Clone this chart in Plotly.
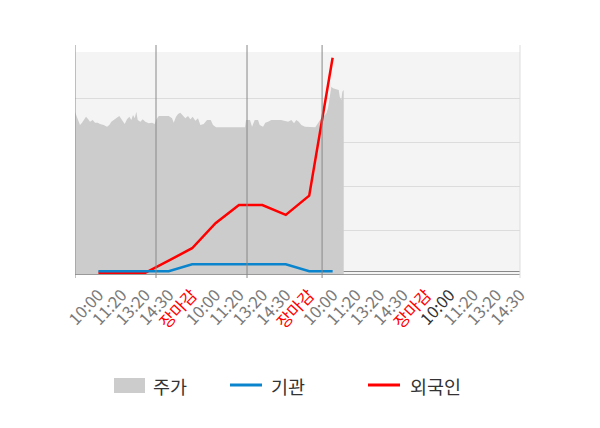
import plotly.graph_objects as go

# ---- data ----
x_labels = ["10:00", "11:20", "13:20", "14:30", "장마감",
            "10:00", "11:20", "13:20", "14:30", "장마감",
            "10:00", "11:20", "13:20", "14:30", "장마감",
            "10:00", "11:20", "13:20", "14:30"]

# intraday price (x in slot units, y in won)
price_x = [-1.0, -0.914, -0.841, -0.786, -0.700, -0.615, -0.529, -0.444, -0.359, -0.243,
           -0.145, -0.030, 0.068, 0.226, 0.367, 0.465, 0.551, 0.653, 0.794, 0.892,
           1.008, 1.123, 1.221, 1.319, 1.405, 1.477, 1.550, 1.618, 1.678, 1.789,
           1.892, 2.003, 2.148, 2.289, 2.404, 2.459, 2.575, 2.788, 3.002, 3.143,
           3.215, 3.313, 3.399, 3.497, 3.600, 3.711, 3.826, 3.924, 4.026, 4.138,
           4.253, 4.351, 4.496, 4.637, 4.795, 4.893, 5.021, 6.260, 6.302, 6.473,
           6.559, 6.674, 6.815, 6.887, 7.028, 7.126, 7.242, 7.383, 7.797, 8.096,
           8.237, 8.352, 8.450, 8.553, 8.664, 8.822, 9.261, 9.377, 9.462, 9.518,
           9.590, 9.731, 9.804, 9.876, 9.944, 10.017, 10.158, 10.261, 10.303, 10.371,
           10.414, 10.474]
price_y = [3690, 3554, 3440, 3394, 3447, 3508, 3583, 3531, 3469, 3508,
           3447, 3447, 3417, 3394, 3355, 3394, 3469, 3508, 3554, 3599,
           3508, 3417, 3524, 3583, 3508, 3622, 3547, 3697, 3508, 3469,
           3524, 3469, 3433, 3447, 3417, 3508, 3599, 3599, 3599, 3547,
           3447, 3583, 3645, 3674, 3599, 3547, 3599, 3524, 3583, 3492,
           3547, 3394, 3417, 3508, 3508, 3394, 3342, 3342, 3508, 3508,
           3355, 3508, 3508, 3394, 3355, 3447, 3469, 3508, 3508, 3469,
           3508, 3433, 3508, 3469, 3394, 3355, 3342, 3433, 3508, 3554,
           3570, 3661, 3781, 4078, 4267, 4230, 4207, 4192, 4039, 3964,
           4153, 4192]

# investor flows at time slots 0..10
flow_slots = [0, 1, 2, 3, 4, 5, 6, 7, 8, 9, 10]
foreign = [-700, -700, -700, 5000, 10800, 22500, 31000, 31000, 26400, 35400, 100000]
institution = [0, 0, 0, 0, 3300, 3300, 3300, 3300, 3300, 0, 0]

# day separators (slot units)
day_breaks = [-1.0, 2.459, 6.345, 9.55]

# ---- figure ----
OFF = 8  # page body margin
W, H = 600, 428
L, R, T, B = 75 - OFF, W - 520 + OFF, 52 - OFF, H - 274 + OFF
PW, PH = W - L - R, H - T - B


def px(p):
    return (p - OFF - L) / PW


def py(p):
    return (H - B - (p - OFF)) / PH


fig = go.Figure()
fig.add_trace(go.Scatter(x=price_x, y=price_y, name="주가", mode="lines",
                         fill="tozeroy", fillcolor="#cccccc",
                         line=dict(width=0, color="#cccccc"), yaxis="y"))
fig.add_trace(go.Scatter(x=flow_slots, y=foreign, name="외국인", mode="lines",
                         line=dict(color="#ff0000", width=2.5), yaxis="y2"))
fig.add_trace(go.Scatter(x=flow_slots, y=institution, name="기관", mode="lines",
                         line=dict(color="#0a84cc", width=2.5), yaxis="y2"))

ticktext = []
for i, lab in enumerate(x_labels):
    if lab == "장마감":
        ticktext.append('<span style="color:#ff0000">%s</span>' % lab)
    elif i == 15:
        ticktext.append('<span style="color:#333333">%s</span>' % lab)
    else:
        ticktext.append(lab)

shapes = []
for xb in day_breaks:
    shapes.append(dict(type="line", xref="x", yref="paper", x0=xb, x1=xb,
                       y0=py(278), y1=py(45), line=dict(color="#888888", width=1),
                       layer="above"))
shapes.append(dict(type="line", xref="paper", yref="paper", x0=1, x1=1,
                   y0=py(278), y1=py(45), line=dict(color="#dddddd", width=1),
                   layer="above"))

# manual legend
shapes.append(dict(type="rect", xref="paper", yref="paper", x0=px(114), x1=px(145),
                   y0=py(393), y1=py(378), fillcolor="#cccccc", line=dict(width=0)))
shapes.append(dict(type="line", xref="paper", yref="paper", x0=px(230), x1=px(262),
                   y0=py(385), y1=py(385), line=dict(color="#0a84cc", width=3)))
shapes.append(dict(type="line", xref="paper", yref="paper", x0=px(368), x1=px(400),
                   y0=py(385), y1=py(385), line=dict(color="#ff0000", width=3)))
annotations = []
for txt, xpos in [("주가", 151), ("기관", 269), ("외국인", 408)]:
    annotations.append(dict(text=txt, xref="paper", yref="paper", x=px(xpos), y=py(385.5),
                            xanchor="left", yanchor="middle", showarrow=False,
                            font=dict(size=18.5, color="#333333")))

fig.update_layout(
    width=W, height=H,
    margin=dict(l=L, r=R, t=T, b=B),
    plot_bgcolor="#f4f4f4", paper_bgcolor="white",
    showlegend=False,
    font=dict(family="Noto Sans CJK KR"),
    xaxis=dict(range=[-1, 18], tickvals=list(range(len(x_labels))), ticktext=ticktext,
               tickangle=-47, showgrid=False, zeroline=False, showline=True,
               linecolor="#999999", linewidth=1, ticks="", ticklabelstandoff=4,
               tickfont=dict(size=16.5, color="#7a7a7a")),
    yaxis=dict(range=[0, 5057], tickvals=[1000, 2000, 3000, 4000], showticklabels=False,
               gridcolor="#dcdcdc", gridwidth=1, zeroline=False, showline=False),
    yaxis2=dict(range=[-1264, 102670], overlaying="y", showgrid=False, showticklabels=False,
                zeroline=True, zerolinecolor="#888888", zerolinewidth=1, showline=False),
    shapes=shapes,
    annotations=annotations,
)

fig.write_html("out.html")
